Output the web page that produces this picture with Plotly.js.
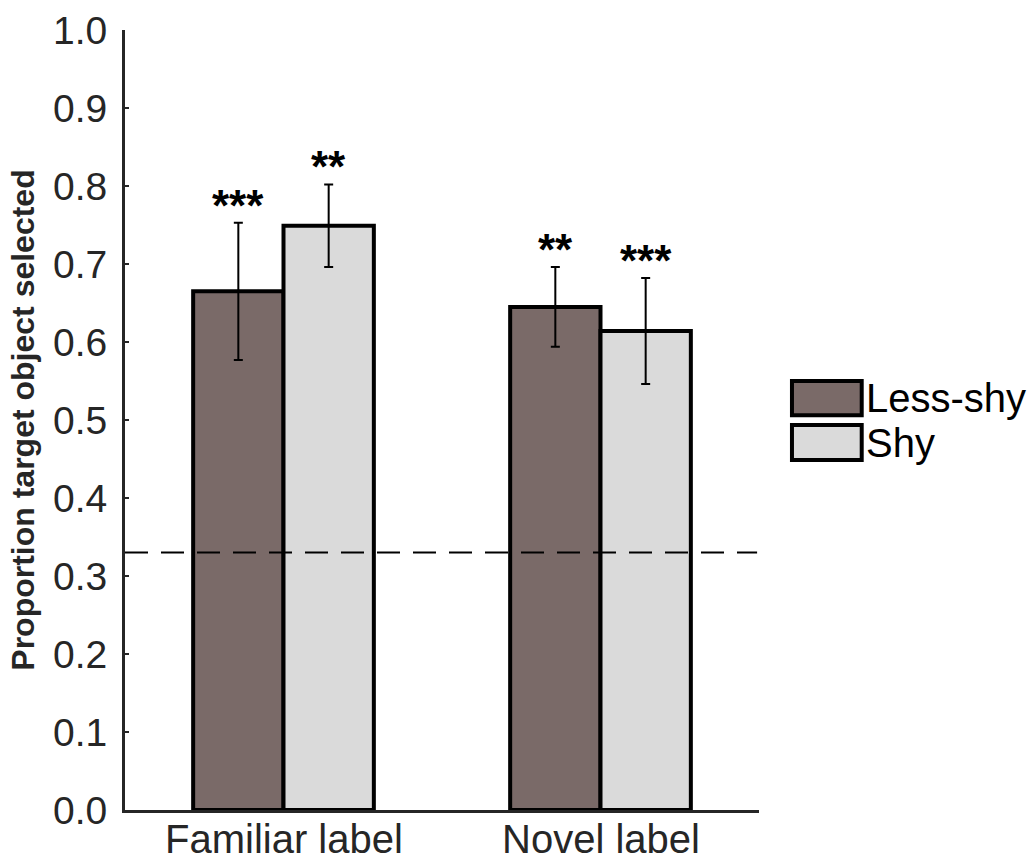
<!DOCTYPE html>
<html>
<head>
<meta charset="utf-8">
<script src="https://cdn.plot.ly/plotly-3.0.1.min.js"></script>
<style>html,body{margin:0;padding:0;background:#fff;}#chart{width:1034px;height:860px;}</style>
</head>
<body>
<div id="chart"></div>
<script>
// ---- data ----
const categories = ["Familiar label", "Novel label"];
const seriesNames = ["Less-shy", "Shy"];
const lessShyValues = [0.665, 0.645];
const lessShyErrors = [0.088, 0.051];
const shyValues = [0.749, 0.614];
const shyErrors = [0.053, 0.068];
const lessShyStars = ["***", "**"];
const shyStars = ["**", "***"];
const chanceLevel = 0.33;
const yTickValues = [0.0, 0.1, 0.2, 0.3, 0.4, 0.5, 0.6, 0.7, 0.8, 0.9, 1.0];

// ---- style ----
const colors = ["#7a6a68", "#dadada"];
const barWidth = 0.285;
const FONT = "Liberation Sans, Arial, Helvetica, sans-serif";
const axisColor = "#262626";

const seriesVals = [lessShyValues, shyValues];
const seriesErr = [lessShyErrors, shyErrors];
const seriesStars = [lessShyStars, shyStars];
const offsets = [-barWidth, 0];

const traces = seriesNames.map((name, s) => ({
  type: "bar",
  name: name,
  x: categories.map((c, i) => i),
  y: seriesVals[s],
  width: barWidth,
  offset: offsets[s],
  marker: {color: colors[s], line: {color: "#000", width: 4}},
  error_y: {type: "data", array: seriesErr[s], visible: true, color: "#000", thickness: 2, width: 4.5},
  showlegend: false,
  hoverinfo: "skip"
}));

const annotations = [];
seriesNames.forEach((name, s) => {
  categories.forEach((c, i) => {
    annotations.push({
      x: i + offsets[s] + barWidth / 2,
      y: seriesVals[s][i] + seriesErr[s][i],
      xref: "x", yref: "y",
      text: "<b>" + seriesStars[s][i] + "</b>",
      showarrow: false,
      yanchor: "bottom",
      yshift: -9,
      font: {family: FONT, size: 44, color: "#000"}
    });
  });
});

// category labels under the axis
categories.forEach((c, i) => {
  annotations.push({
    x: i, y: 0, xref: "x", yref: "y",
    text: c, showarrow: false,
    xanchor: "center", yanchor: "middle", yshift: -29,
    font: {family: FONT, size: 40, color: axisColor}
  });
});

// legend built from series names
const legendX0 = 1.052, legendX1 = 1.162;
const legendRows = [[0.55, 0.506], [0.4936, 0.4487]];
const shapes = [{
  type: "line", xref: "paper", yref: "y",
  x0: 0, x1: 0.997, y0: chanceLevel, y1: chanceLevel,
  line: {color: "#000", width: 2, dash: "23px,13px"}
}];
seriesNames.forEach((name, s) => {
  shapes.push({
    type: "rect", xref: "paper", yref: "paper",
    x0: legendX0, x1: legendX1, y0: legendRows[s][1], y1: legendRows[s][0],
    fillcolor: colors[s], line: {color: "#000", width: 4}
  });
  annotations.push({
    xref: "paper", yref: "paper",
    x: legendX1 + 0.004, y: (legendRows[s][0] + legendRows[s][1]) / 2,
    xanchor: "left", yanchor: "middle",
    text: name, showarrow: false,
    font: {family: FONT, size: 40, color: "#000"}
  });
});

const layout = {
  width: 1034, height: 860,
  margin: {l: 125, r: 275, t: 30, b: 50},
  paper_bgcolor: "#fff", plot_bgcolor: "#fff",
  font: {family: FONT, color: axisColor},
  barmode: "overlay",
  xaxis: {
    type: "linear",
    range: [-0.5, 1.5],
    showticklabels: false,
    showline: true, linecolor: axisColor, linewidth: 3,
    showgrid: false, zeroline: false, ticks: "",
    fixedrange: true
  },
  yaxis: {
    range: [0, 1.0],
    tickvals: yTickValues,
    ticktext: yTickValues.map(v => v.toFixed(1)),
    showline: true, linecolor: axisColor, linewidth: 3,
    showgrid: false, zeroline: false,
    ticks: "inside", ticklen: 4, tickwidth: 2, tickcolor: axisColor,
    ticklabelstandoff: 7,
    tickfont: {family: FONT, size: 39, color: axisColor},
    title: {text: "<b>Proportion target object selected</b>", standoff: 9,
            font: {family: FONT, size: 32, color: axisColor}},
    automargin: false,
    fixedrange: true
  },
  shapes: shapes,
  annotations: annotations,
  showlegend: false
};

Plotly.newPlot("chart", traces, layout, {displayModeBar: false, staticPlot: true});
</script>
</body>
</html>
